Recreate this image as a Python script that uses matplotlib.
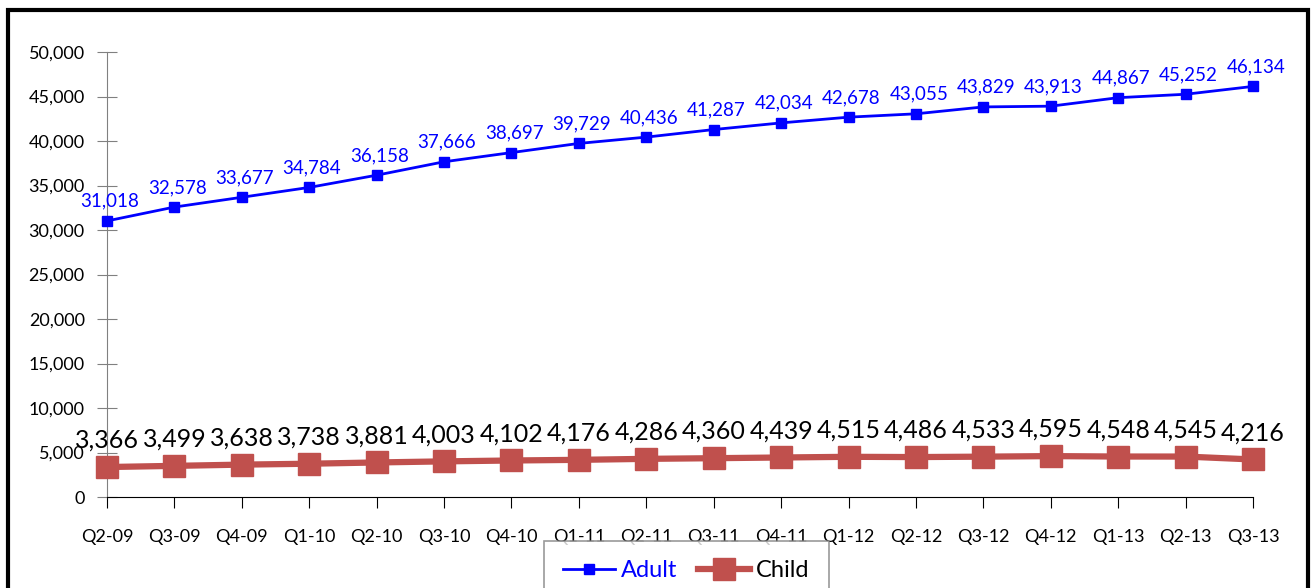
import matplotlib.pyplot as plt
from matplotlib.patches import Rectangle
from matplotlib.ticker import FuncFormatter

plt.rcParams['font.family'] = ['Lato', 'DejaVu Sans']

# quarters and values
quarters = ["Q2-09", "Q3-09", "Q4-09", "Q1-10", "Q2-10", "Q3-10", "Q4-10", "Q1-11", "Q2-11",
            "Q3-11", "Q4-11", "Q1-12", "Q2-12", "Q3-12", "Q4-12", "Q1-13", "Q2-13", "Q3-13"]
adult = [31018, 32578, 33677, 34784, 36158, 37666, 38697, 39729, 40436,
         41287, 42034, 42678, 43055, 43829, 43913, 44867, 45252, 46134]
child = [3366, 3499, 3638, 3738, 3881, 4003, 4102, 4176, 4286,
         4360, 4439, 4515, 4486, 4533, 4595, 4548, 4545, 4216]

fig = plt.figure(figsize=(13.16, 5.88), dpi=100)
ax = fig.add_axes([107 / 1316, 1 - 497 / 588, (1253 - 107) / 1316, (497 - 52) / 588])

x = list(range(len(quarters)))
ax.plot(x, adult, color='#0000FF', lw=2, marker='s', ms=7, label='Adult', clip_on=False, zorder=3)
ax.plot(x, child, color='#C0504D', lw=4.5, marker='s', ms=16, label='Child', clip_on=False, zorder=3)

# data labels
for i, v in enumerate(adult):
    ax.annotate(f"{v:,}", (i, v), xytext=(2, 8), textcoords='offset points',
                ha='center', va='bottom', color='#0000FF', fontsize=13.5)
for i, v in enumerate(child):
    ax.annotate(f"{v:,}", (i, v), xytext=(0, 11), textcoords='offset points',
                ha='center', va='bottom', color='black', fontsize=18)

ax.set_xlim(0, len(quarters) - 1)
ax.set_ylim(0, 50000)
ax.set_yticks(range(0, 50001, 5000))
ax.yaxis.set_major_formatter(FuncFormatter(lambda v, p: f"{int(v):,}"))
ax.set_xticks(x)
ax.set_xticklabels(quarters)

for s in ['top', 'right']:
    ax.spines[s].set_visible(False)
ax.spines['left'].set_color('#808080')
ax.spines['bottom'].set_color('black')
ax.tick_params(axis='y', direction='inout', length=14, color='#808080', labelsize=13, pad=9)
ax.tick_params(axis='x', direction='out', length=8, color='black', labelsize=13, pad=15)

# outer chart border
fig.patches.append(Rectangle((8 / 1316, -0.2), 1300 / 1316, 1.2 - 10 / 588, transform=fig.transFigure,
                             fill=False, edgecolor='black', lw=3))

leg = fig.legend(loc='upper left', bbox_to_anchor=(537 / 1316, 1 - 534 / 588), ncol=2,
                 fontsize=17, frameon=True, fancybox=False, edgecolor='#808080',
                 handlelength=2.2, columnspacing=0.9, handletextpad=0.25, borderpad=0.8,
                 borderaxespad=0.3)
leg.get_frame().set_linewidth(1.2)
leg.get_texts()[0].set_color('#0000FF')

fig.savefig('out.png', dpi=100)
